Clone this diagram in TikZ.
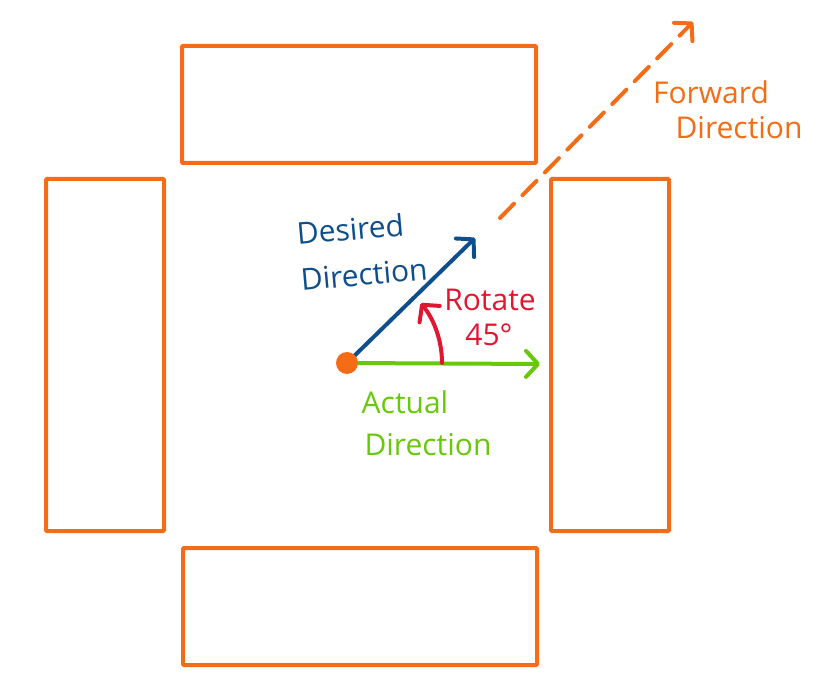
\documentclass[tikz,border=0pt]{standalone}
\usepackage{fontspec}
\setmainfont{Open Sans}
\usetikzlibrary{arrows.meta}
\definecolor{rorange}{RGB}{245,108,22}
\definecolor{rblue}{RGB}{14,78,140}
\definecolor{rgreen}{RGB}{104,200,10}
\definecolor{rred}{RGB}{225,22,48}
\begin{document}
\begin{tikzpicture}[x=1pt,y=-1pt,
  wheelbox/.style={draw=rorange,line width=4pt,rounded corners=1pt,inner sep=0pt},
  hwide/.style={wheelbox,minimum width=354pt,minimum height=117pt},
  vtall/.style={wheelbox,minimum width=118pt,minimum height=352pt},
  barb/.style={-{Straight Barb[length=12pt,width=26pt,round]}},
  vec/.style={line width=4pt,line cap=round,barb},
  lbl/.style={font=\fontsize{30}{46}\selectfont,inner sep=0pt},
  dotnode/.style={circle,fill=rorange,minimum size=22pt,inner sep=0pt}]
\useasboundingbox (0,0) rectangle (822,695);
\node[hwide] (top) at (359,104.5) {};
\node[hwide] (bottom) at (360,606.5) {};
\node[vtall] (left) at (105,355) {};
\node[vtall] (right) at (610,355) {};

\coordinate (o) at (347,363);
\coordinate (bluetip) at (475,238);
\coordinate (greentip) at (540,364);
\coordinate (fwdstart) at (500,218);
\coordinate (fwdtip) at (693,22);

\draw[vec,rorange,dash pattern=on 20pt off 12pt] (fwdstart) -- (fwdtip);
\draw[vec,rgreen] (o) -- (greentip);
\draw[vec,rblue] (o) -- (bluetip);
\draw[vec,rred] ([shift={(0:95)}]o) arc[start angle=0,end angle=-39,radius=95];
\node[dotnode] (dot) at (o) {};

\node[lbl,text=rblue,rotate=5,align=left] (des) at (362,251) {Desired\\Direction};
\node[lbl,text=rred] (rot1) at (490,300) {Rotate};
\node[lbl,text=rred] (rot2) at (489,335) {45°};
\node[lbl,text=rgreen] (act1) at (405,402) {Actual};
\node[lbl,text=rgreen] (act2) at (428,445) {Direction};
\node[lbl,text=rorange] (fwd1) at (711,92) {Forward};
\node[lbl,text=rorange] (fwd2) at (739,128) {Direction};
\end{tikzpicture}
\end{document}
